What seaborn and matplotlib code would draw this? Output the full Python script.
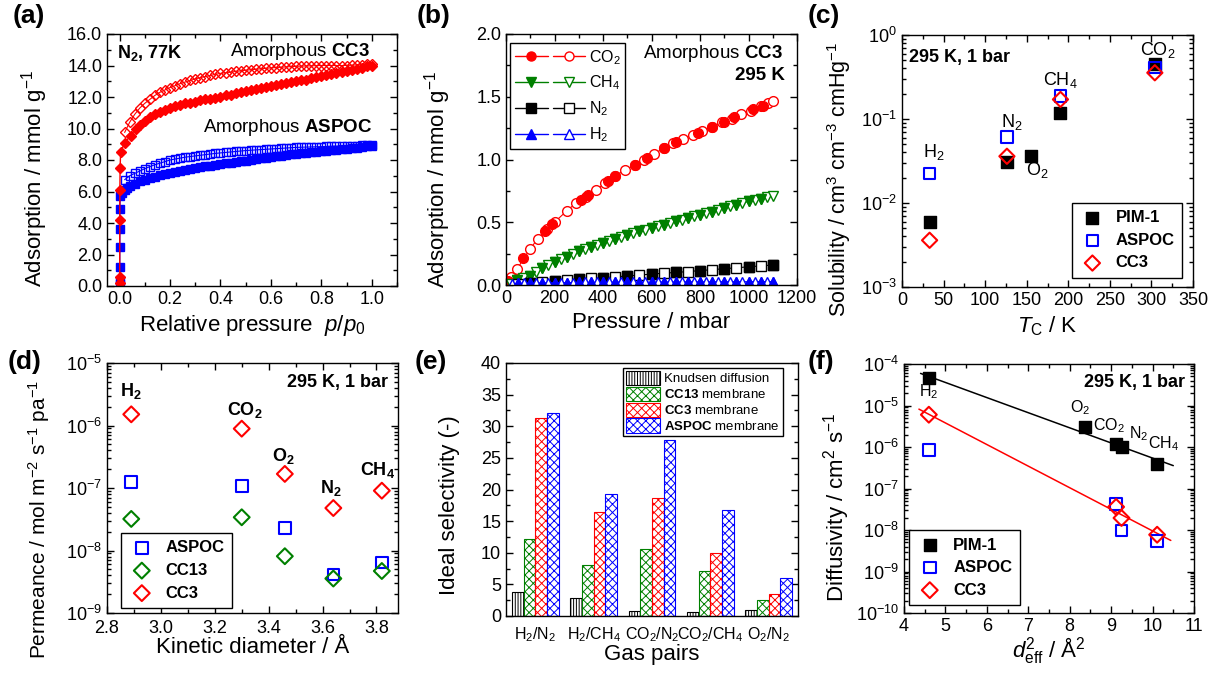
import numpy as np
import pandas as pd
import matplotlib
matplotlib.use("Agg")
import matplotlib.pyplot as plt
import seaborn as sns
from matplotlib.lines import Line2D
from matplotlib.patches import Patch
from matplotlib.legend_handler import HandlerTuple
from matplotlib.ticker import MultipleLocator, LogLocator, NullFormatter, FormatStrFormatter

# ---------------- (a) N2 isotherms at 77 K ----------------
grid_a = [0.02, 0.04, 0.06, 0.08, 0.10, 0.12, 0.14, 0.16, 0.18, 0.20,
          0.22, 0.24, 0.26, 0.28, 0.30, 0.32, 0.34, 0.36, 0.38, 0.40,
          0.42, 0.44, 0.46, 0.48, 0.50, 0.52, 0.54, 0.56, 0.58, 0.60,
          0.62, 0.64, 0.66, 0.68, 0.70, 0.72, 0.74, 0.76, 0.78, 0.80,
          0.82, 0.84, 0.86, 0.88, 0.90, 0.92, 0.94, 0.96, 0.98, 1.00]

cc3_ads_p = [0.0001, 0.0003, 0.0006, 0.001, 0.002, 0.004, 0.02, 0.044, 0.064,
             0.08, 0.10, 0.12, 0.14, 0.16, 0.18, 0.20, 0.22, 0.24, 0.26, 0.28,
             0.30, 0.32, 0.34, 0.36, 0.38, 0.40, 0.42, 0.44, 0.46, 0.48, 0.50,
             0.52, 0.54, 0.56, 0.58, 0.60, 0.62, 0.64, 0.66, 0.68, 0.70, 0.72,
             0.74, 0.76, 0.78, 0.80, 0.82, 0.84, 0.86, 0.88, 0.90, 0.92, 0.94,
             0.96, 0.98, 1.00]
cc3_ads_q = [0.2, 0.6, 4.2, 6.1, 7.5, 8.5, 9.1, 9.55, 10.0,
             10.25, 10.5, 10.7, 10.9, 11.05, 11.2, 11.3, 11.4, 11.5, 11.6, 11.65,
             11.7, 11.8, 11.85, 11.9, 11.95, 12.0, 12.1, 12.15, 12.25, 12.3, 12.4,
             12.45, 12.5, 12.55, 12.65, 12.7, 12.75, 12.8, 12.9, 12.95, 13.0, 13.05,
             13.1, 13.2, 13.25, 13.35, 13.4, 13.45, 13.5, 13.6, 13.65, 13.7, 13.8,
             13.85, 13.95, 14.0]
cc3_des_q = [9.75, 10.4, 10.9, 11.3, 11.6, 11.85, 12.1, 12.3, 12.45, 12.6,
             12.72, 12.85, 12.95, 13.05, 13.15, 13.23, 13.3, 13.37, 13.44, 13.5,
             13.54, 13.58, 13.62, 13.66, 13.7, 13.73, 13.76, 13.79, 13.82, 13.85,
             13.87, 13.89, 13.91, 13.93, 13.95, 13.96, 13.97, 13.98, 13.99, 14.0,
             14.0, 14.0, 14.0, 14.0, 14.0, 14.02, 14.04, 14.06, 14.08, 14.1]

aspoc_ads_p = [0.0001, 0.0002, 0.0004, 0.0006, 0.0008, 0.001, 0.002, 0.01,
               0.02, 0.03, 0.04, 0.06, 0.08, 0.10, 0.12, 0.14, 0.16, 0.18, 0.20,
               0.22, 0.24, 0.26, 0.28, 0.30, 0.32, 0.34, 0.36, 0.38, 0.40,
               0.42, 0.44, 0.46, 0.48, 0.50, 0.52, 0.54, 0.56, 0.58, 0.60,
               0.62, 0.64, 0.66, 0.68, 0.70, 0.72, 0.74, 0.76, 0.78, 0.80,
               0.82, 0.84, 0.86, 0.88, 0.90, 0.92, 0.94, 0.96, 0.98, 1.00]
aspoc_ads_q = [0.1, 0.4, 1.2, 2.5, 3.6, 4.9, 5.7, 5.9,
               6.1, 6.25, 6.35, 6.5, 6.65, 6.75, 6.85, 6.95, 7.02, 7.1, 7.15,
               7.22, 7.3, 7.37, 7.43, 7.5, 7.55, 7.6, 7.65, 7.7, 7.75,
               7.8, 7.83, 7.87, 7.91, 7.95, 8.0, 8.05, 8.1, 8.15, 8.2,
               8.24, 8.28, 8.32, 8.36, 8.4, 8.43, 8.46, 8.49, 8.52, 8.55,
               8.58, 8.61, 8.64, 8.67, 8.7, 8.74, 8.78, 8.82, 8.86, 8.9]
aspoc_des_q = [6.75, 7.0, 7.15, 7.3, 7.45, 7.58, 7.7, 7.8, 7.9, 8.0,
               8.06, 8.12, 8.18, 8.22, 8.26, 8.3, 8.34, 8.38, 8.42, 8.45,
               8.48, 8.51, 8.54, 8.57, 8.6, 8.62, 8.64, 8.66, 8.68, 8.7,
               8.72, 8.74, 8.76, 8.78, 8.8, 8.81, 8.82, 8.83, 8.84, 8.85,
               8.86, 8.87, 8.88, 8.89, 8.9, 8.91, 8.92, 8.93, 8.94, 8.95]

# ---------------- (b) CC3 gas isotherms at 295 K ----------------
co2_ads_p = [10, 70, 160, 190, 310, 340, 420, 450, 530, 580, 650, 700, 790, 850, 900, 940, 1020, 1060]
co2_ads_q = [0.03, 0.215, 0.43, 0.485, 0.675, 0.715, 0.83, 0.87, 0.955, 1.01, 1.09, 1.14, 1.215, 1.26, 1.30, 1.335, 1.40, 1.43]
co2_des_p = [20, 45, 100, 130, 170, 200, 250, 290, 330, 370, 410, 450, 490, 530, 570, 610, 650, 690, 730, 770, 810, 850, 890, 930, 970, 1010, 1050, 1080, 1100]
co2_des_q = [0.067, 0.125, 0.29, 0.365, 0.45, 0.50, 0.59, 0.655, 0.70, 0.755, 0.815, 0.87, 0.915, 0.955, 1.0, 1.045, 1.09, 1.13, 1.165, 1.195, 1.23, 1.26, 1.295, 1.325, 1.36, 1.39, 1.425, 1.45, 1.467]

ch4_ads_p = [45, 100, 150, 200, 250, 300, 350, 400, 450, 500, 550, 600, 650, 700, 750, 800, 850, 900, 950, 1000, 1050]
ch4_ads_q = [0.04, 0.072, 0.133, 0.187, 0.22, 0.267, 0.30, 0.333, 0.365, 0.40, 0.427, 0.453, 0.48, 0.507, 0.533, 0.56, 0.584, 0.613, 0.64, 0.667, 0.688]
ch4_des_p = [20, 45, 70, 100, 125, 150, 175, 200, 225, 250, 275, 300, 325, 350, 375, 400, 425, 450, 475, 500, 525, 550,
             575, 600, 625, 650, 675, 700, 725, 750, 775, 800, 825, 850, 875, 900, 925, 950, 975, 1000, 1025, 1050, 1075, 1100]
ch4_des_q = [0.01, 0.04, 0.055, 0.072, 0.10, 0.133, 0.16, 0.187, 0.205, 0.22, 0.245, 0.267, 0.285, 0.30, 0.318, 0.333, 0.35, 0.365, 0.382, 0.40, 0.413, 0.427,
             0.44, 0.453, 0.467, 0.48, 0.493, 0.507, 0.52, 0.533, 0.547, 0.56, 0.572, 0.584, 0.598, 0.613, 0.627, 0.64, 0.653, 0.667, 0.678, 0.688, 0.70, 0.712]

n2_p = [50, 100, 150, 200, 250, 300, 350, 400, 450, 500, 550, 600, 650, 700, 750, 800, 850, 900, 950, 1000, 1050, 1100]
n2_q = [0.008, 0.015, 0.022, 0.03, 0.037, 0.045, 0.052, 0.058, 0.065, 0.072, 0.079, 0.087, 0.094, 0.10, 0.107, 0.115, 0.122, 0.13, 0.137, 0.145, 0.152, 0.16]
h2_p = [25, 50, 75, 100, 125, 150, 175, 200, 225, 250, 275, 300, 325, 350, 375, 400, 425, 450, 475, 500, 525, 550,
        575, 600, 625, 650, 675, 700, 725, 750, 775, 800, 825, 850, 875, 900, 925, 950, 975, 1000, 1025, 1050, 1075, 1100]
h2_q = [0.01, 0.012, 0.014, 0.015, 0.016, 0.017, 0.017, 0.018, 0.018, 0.019, 0.019, 0.02, 0.02, 0.021, 0.021, 0.021, 0.021, 0.022, 0.022, 0.022,
        0.022, 0.023, 0.023, 0.023, 0.023, 0.024, 0.024, 0.024, 0.024, 0.025, 0.025, 0.025, 0.025, 0.025, 0.026, 0.026, 0.026, 0.026, 0.026,
        0.026, 0.027, 0.027, 0.027, 0.027]

# ---------------- (c) Solubility vs critical temperature ----------------
sol_gases = ["H2", "N2", "O2", "CH4", "CO2"]
sol_tc = [33.2, 126.2, 154.6, 190.6, 304.1]
sol_pim = [0.0059, 0.031, 0.036, 0.119, 0.45]
sol_aspoc_tc = [33.2, 126.2, 190.6, 304.1]
sol_aspoc = [0.0224, 0.0614, 0.187, 0.41]
sol_cc3_tc = [33.2, 126.2, 190.6, 304.1]
sol_cc3 = [0.0036, 0.036, 0.171, 0.355]

# ---------------- (d) Permeance vs kinetic diameter ----------------
kin_diam = [2.89, 3.30, 3.46, 3.64, 3.82]
perm_aspoc = [1.26e-7, 1.08e-7, 2.31e-8, 4.12e-9, 6.4e-9]
perm_cc13 = [3.2e-8, 3.4e-8, 8.1e-9, 3.56e-9, 4.7e-9]
perm_cc3 = [1.51e-6, 8.9e-7, 1.68e-7, 4.78e-8, 9.06e-8]
perm_labels = ["H$_\\mathbf{2}$", "CO$_\\mathbf{2}$", "O$_\\mathbf{2}$", "N$_\\mathbf{2}$", "CH$_\\mathbf{4}$"]

# ---------------- (e) Ideal selectivity ----------------
pairs = ["H$_2$/N$_2$", "H$_2$/CH$_4$", "CO$_2$/N$_2$", "CO$_2$/CH$_4$", "O$_2$/N$_2$"]
sel_knudsen = [3.74, 2.83, 0.80, 0.60, 0.94]
sel_cc13 = [12.2, 8.1, 10.65, 7.15, 2.5]
sel_cc3 = [31.25, 16.5, 18.7, 9.9, 3.55]
sel_aspoc = [32.05, 19.3, 27.8, 16.75, 6.0]
sel_names = ["Knudsen diffusion", "CC13 membrane", "CC3 membrane", "ASPOC membrane"]

# ---------------- (f) Diffusivity vs d_eff^2 ----------------
dif_pim_x = [4.6, 8.36, 9.12, 9.25, 10.11]
dif_pim = [4.5e-5, 3.0e-6, 1.18e-6, 9.8e-7, 3.9e-7]
dif_aspoc_x = [4.6, 9.12, 9.25, 10.11]
dif_aspoc = [8.6e-7, 4.2e-8, 9.8e-9, 5.5e-9]
dif_cc3_x = [4.6, 9.12, 9.25, 10.11]
dif_cc3 = [6.0e-6, 3.6e-8, 1.95e-8, 7.7e-9]

# ============================================================
sns.set_theme(style="ticks")
plt.rcParams.update({
    "font.family": ["Liberation Sans", "DejaVu Sans"],
    "mathtext.fontset": "custom",
    "mathtext.rm": "Liberation Sans",
    "mathtext.it": "Liberation Sans:italic",
    "mathtext.bf": "Liberation Sans:bold",
    "axes.linewidth": 1.0,
    "axes.edgecolor": "black",
    "axes.labelcolor": "black",
    "text.color": "black",
    "xtick.color": "black",
    "ytick.color": "black",
    "xtick.direction": "in",
    "ytick.direction": "in",
    "xtick.top": True,
    "ytick.right": True,
    "xtick.major.size": 5,
    "ytick.major.size": 5,
    "xtick.minor.size": 3,
    "ytick.minor.size": 3,
    "xtick.major.width": 1.0,
    "ytick.major.width": 1.0,
    "xtick.labelsize": 13,
    "ytick.labelsize": 13,
    "axes.labelsize": 16,
    "hatch.linewidth": 0.7,
})

fig = plt.figure(figsize=(12.18, 6.75), dpi=100)
W, H = 1218.0, 675.0


def axes_px(l, t, r, b):
    return fig.add_axes([l / W, 1 - b / H, (r - l) / W, (b - t) / H])


ax_a = axes_px(107, 34, 397, 286)
ax_b = axes_px(506, 34, 797, 285)
ax_c = axes_px(902, 35, 1193, 287)
ax_d = axes_px(107, 363, 398, 613)
ax_e = axes_px(506, 363, 798, 616)
ax_f = axes_px(904, 364, 1194, 613)

for ax in [ax_a, ax_b, ax_c, ax_d, ax_e, ax_f]:
    ax.tick_params(which="both", direction="in", top=True, right=True)


def style_legend(leg):
    fr = leg.get_frame()
    fr.set_edgecolor("black")
    fr.set_linewidth(1.0)
    fr.set_alpha(1)


# ---------- (a) ----------
RED, BLUE, GREEN, BLACK = "#ff0000", "#0000ff", "#008000", "#000000"
sns.lineplot(x=aspoc_ads_p, y=aspoc_ads_q, ax=ax_a, sort=False, estimator=None, color=BLUE,
             lw=1, marker="s", markersize=5.5, markerfacecolor=BLUE, markeredgecolor=BLUE, markeredgewidth=1)
sns.lineplot(x=grid_a, y=aspoc_des_q, ax=ax_a, sort=False, estimator=None, color=BLUE,
             lw=0.8, marker="s", markersize=5.5, markerfacecolor="none", markeredgecolor=BLUE, markeredgewidth=1)
sns.lineplot(x=cc3_ads_p, y=cc3_ads_q, ax=ax_a, sort=False, estimator=None, color=RED,
             lw=1, marker="D", markersize=5.5, markerfacecolor=RED, markeredgecolor=RED, markeredgewidth=1)
sns.lineplot(x=grid_a, y=cc3_des_q, ax=ax_a, sort=False, estimator=None, color=RED,
             lw=0.8, marker="D", markersize=5.5, markerfacecolor="none", markeredgecolor=RED, markeredgewidth=1)
ax_a.set_xlim(-0.05, 1.1)
ax_a.set_ylim(0, 16)
ax_a.xaxis.set_major_locator(MultipleLocator(0.2))
ax_a.xaxis.set_minor_locator(MultipleLocator(0.1))
ax_a.yaxis.set_major_locator(MultipleLocator(2))
ax_a.yaxis.set_minor_locator(MultipleLocator(1))
ax_a.xaxis.set_major_formatter(FormatStrFormatter("%.1f"))
ax_a.yaxis.set_major_formatter(FormatStrFormatter("%.1f"))
ax_a.set_xlabel("Relative pressure  $p$/$p_0$")
ax_a.set_ylabel("Adsorption / mmol g$^{-1}$")
ax_a.yaxis.set_label_coords(-0.197, 0.425)
ax_a.text(0.034, 0.925, "N$_\\mathbf{2}$, 77K", transform=ax_a.transAxes, fontsize=13,
          fontweight="bold", va="center", ha="left")
ax_a.text(0.907, 0.929, "Amorphous $\\mathbf{CC3}$", transform=ax_a.transAxes, fontsize=13.5,
          va="center", ha="right")
ax_a.text(0.914, 0.627, "Amorphous $\\mathbf{ASPOC}$", transform=ax_a.transAxes, fontsize=13.5,
          va="center", ha="right")

# ---------- (b) ----------
series_b = [
    ("CO$_2$", RED, "o", co2_ads_p, co2_ads_q, co2_des_p, co2_des_q),
    ("CH$_4$", GREEN, "v", ch4_ads_p, ch4_ads_q, ch4_des_p, ch4_des_q),
    ("N$_2$", BLACK, "s", n2_p[1::2], n2_q[1::2], n2_p, n2_q),
    ("H$_2$", BLUE, "^", h2_p[1::2], h2_q[1::2], h2_p, h2_q),
]
handles_b, labels_b = [], []
for name, c, m, xa, ya, xd, yd in series_b:
    sns.lineplot(x=xd, y=yd, ax=ax_b, sort=False, estimator=None, color=c, lw=0.8,
                 marker=m, markersize=7, markerfacecolor="white", markeredgecolor=c, markeredgewidth=1)
    sns.lineplot(x=xa, y=ya, ax=ax_b, sort=False, estimator=None, color=c, lw=0,
                 marker=m, markersize=7, markerfacecolor=c, markeredgecolor=c, markeredgewidth=1)
    h1 = Line2D([], [], color=c, lw=1, marker=m, markersize=6.5, markerfacecolor=c, markeredgecolor=c)
    h2 = Line2D([], [], color=c, lw=1, marker=m, markersize=6.5, markerfacecolor="white", markeredgecolor=c)
    handles_b.append((h1, h2))
    labels_b.append(name)
ax_b.set_xlim(0, 1200)
ax_b.set_ylim(0, 2.0)
ax_b.xaxis.set_major_locator(MultipleLocator(200))
ax_b.xaxis.set_minor_locator(MultipleLocator(100))
ax_b.yaxis.set_major_locator(MultipleLocator(0.5))
ax_b.yaxis.set_minor_locator(MultipleLocator(0.25))
ax_b.yaxis.set_major_formatter(FormatStrFormatter("%.1f"))
ax_b.set_xlabel("Pressure / mbar")
ax_b.set_ylabel("Adsorption / mmol g$^{-1}$")
ax_b.yaxis.set_label_coords(-0.182, 0.42)
leg_b = ax_b.legend(handles_b, labels_b, handler_map={tuple: HandlerTuple(ndivide=None, pad=0.35)},
                    loc="upper left", bbox_to_anchor=(0.015, 0.964), fontsize=11.5, handlelength=4.4,
                    fancybox=False, borderaxespad=0, labelspacing=0.45, handletextpad=0.2,
                    borderpad=0.3, framealpha=1)
style_legend(leg_b)
ax_b.text(0.953, 0.924, "Amorphous $\\mathbf{CC3}$", transform=ax_b.transAxes, fontsize=13.5,
          va="center", ha="right")
ax_b.text(0.96, 0.833, "295 K", transform=ax_b.transAxes, fontsize=13.5, fontweight="bold",
          va="center", ha="right")

# ---------- (c) ----------
sns.scatterplot(x=sol_tc, y=sol_pim, ax=ax_c, marker="s", s=70, color=BLACK, edgecolor=BLACK,
                linewidth=1, label="PIM-1", zorder=3)
sns.scatterplot(x=sol_aspoc_tc, y=sol_aspoc, ax=ax_c, marker="s", s=70, color=BLUE, facecolor="none",
                edgecolor=BLUE, linewidth=1.5, label="ASPOC", zorder=4)
sns.scatterplot(x=sol_cc3_tc, y=sol_cc3, ax=ax_c, marker="D", s=60, color=RED, facecolor="none",
                edgecolor=RED, linewidth=1.5, label="CC3", zorder=5)
ax_c.set_yscale("log")
ax_c.set_xlim(0, 350)
ax_c.set_ylim(1e-3, 1)
ax_c.xaxis.set_major_locator(MultipleLocator(50))
ax_c.xaxis.set_minor_locator(MultipleLocator(25))
ax_c.yaxis.set_major_locator(LogLocator(base=10, numticks=20))
ax_c.yaxis.set_minor_locator(LogLocator(base=10, subs=np.arange(2, 10), numticks=100))
ax_c.yaxis.set_minor_formatter(NullFormatter())
ax_c.set_xlabel("$T_\\mathrm{C}$ / K")
ax_c.set_ylabel("Solubility / cm$^3$ cm$^{-3}$ cmHg$^{-1}$", fontsize=15.5)
ax_c.yaxis.set_label_coords(-0.168, 0.425)
for lab, xx, yy in [("H$_2$", 38, 0.04), ("N$_2$", 132, 0.093), ("O$_2$", 163, 0.0246),
                    ("CH$_4$", 191, 0.29), ("CO$_2$", 308, 0.66)]:
    ax_c.text(xx, yy, lab, fontsize=13, ha="center", va="center")
ax_c.text(0.025, 0.909, "295 K, 1 bar", transform=ax_c.transAxes, fontsize=13,
          fontweight="bold", va="center", ha="left")
leg_c = ax_c.legend(loc="lower right", bbox_to_anchor=(0.963, 0.036), prop={"weight": "bold", "size": 12},
                    fancybox=False, borderaxespad=0, handletextpad=0.6, borderpad=0.45,
                    labelspacing=0.45, framealpha=1, handlelength=1.6)
style_legend(leg_c)

# ---------- (d) ----------
sns.scatterplot(x=kin_diam, y=perm_aspoc, ax=ax_d, marker="s", s=70, color=BLUE, facecolor="none",
                edgecolor=BLUE, linewidth=1.5, label="ASPOC", zorder=3)
sns.scatterplot(x=kin_diam, y=perm_cc13, ax=ax_d, marker="D", s=65, color=GREEN, facecolor="none",
                edgecolor=GREEN, linewidth=1.5, label="CC13", zorder=4)
sns.scatterplot(x=kin_diam, y=perm_cc3, ax=ax_d, marker="D", s=65, color=RED, facecolor="none",
                edgecolor=RED, linewidth=1.5, label="CC3", zorder=5)
ax_d.set_yscale("log")
ax_d.set_xlim(2.8, 3.88)
ax_d.set_ylim(1e-9, 1e-5)
ax_d.xaxis.set_major_locator(MultipleLocator(0.2))
ax_d.xaxis.set_minor_locator(MultipleLocator(0.1))
ax_d.xaxis.set_major_formatter(FormatStrFormatter("%.1f"))
ax_d.yaxis.set_major_locator(LogLocator(base=10, numticks=20))
ax_d.yaxis.set_minor_locator(LogLocator(base=10, subs=np.arange(2, 10), numticks=100))
ax_d.yaxis.set_minor_formatter(NullFormatter())
ax_d.tick_params(axis="x", which="major", pad=5)
ax_d.set_xlabel("Kinetic diameter / Å", labelpad=0)
ax_d.set_ylabel("Permeance / mol m$^{-2}$ s$^{-1}$ pa$^{-1}$", fontsize=15)
ax_d.yaxis.set_label_coords(-0.19, 0.375)
for lab, xx, yy in zip(perm_labels, [2.89, 3.31, 3.453, 3.63, 3.806], [3.5e-6, 1.78e-6, 3.2e-7, 9.9e-8, 1.94e-7]):
    ax_d.text(xx, yy, lab, fontsize=13, fontweight="bold", ha="center", va="center")
ax_d.text(0.966, 0.92, "295 K, 1 bar", transform=ax_d.transAxes, fontsize=13,
          fontweight="bold", va="center", ha="right")
leg_d = ax_d.legend(loc="lower left", bbox_to_anchor=(0.048, 0.02), prop={"weight": "bold", "size": 12},
                    fancybox=False, borderaxespad=0, handletextpad=0.6, borderpad=0.45,
                    labelspacing=0.45, framealpha=1, handlelength=1.6)
style_legend(leg_d)

# ---------- (e) ----------
sel_df = pd.DataFrame({
    "pair": pairs * 4,
    "sel": sel_knudsen + sel_cc13 + sel_cc3 + sel_aspoc,
    "kind": [sel_names[0]] * 5 + [sel_names[1]] * 5 + [sel_names[2]] * 5 + [sel_names[3]] * 5,
})
bar_colors = [BLACK, GREEN, RED, BLUE]
bar_hatches = ["||||||", "xxxx", "xxxx", "xxxx"]
sns.barplot(data=sel_df, x="pair", y="sel", hue="kind", hue_order=sel_names, order=pairs,
            palette=bar_colors, ax=ax_e, width=0.8, saturation=1, legend=False, errorbar=None)
for cont, c, h in zip(ax_e.containers, bar_colors, bar_hatches):
    for p in cont:
        p.set_facecolor("white")
        p.set_edgecolor(c)
        p.set_hatch(h)
        p.set_linewidth(0.8)
ax_e.set_xlim(-0.5, 4.5)
ax_e.set_ylim(0, 40)
ax_e.yaxis.set_major_locator(MultipleLocator(5))
ax_e.yaxis.set_minor_locator(MultipleLocator(2.5))
ax_e.tick_params(axis="x", which="both", length=0, pad=7, labelsize=11.5)
ax_e.set_xlabel("Gas pairs", labelpad=0)
ax_e.set_ylabel("Ideal selectivity (-)")
ax_e.yaxis.set_label_coords(-0.158, 0.44)
leg_labels_e = ["Knudsen diffusion", "$\\mathbf{CC13}$ membrane", "$\\mathbf{CC3}$ membrane",
                "$\\mathbf{ASPOC}$ membrane"]
handles_e = [Patch(facecolor="white", edgecolor=c, hatch=h, linewidth=0.8) for c, h in zip(bar_colors, bar_hatches)]
leg_e = ax_e.legend(handles_e, leg_labels_e, loc="upper right", bbox_to_anchor=(0.947, 0.98), fontsize=9.5,
                    fancybox=False, borderaxespad=0, handlelength=2.6, handleheight=1.3,
                    handletextpad=0.3, borderpad=0.2, labelspacing=0.1, framealpha=1)
style_legend(leg_e)

# ---------- (f) ----------
fit_x = np.array([4.4, 10.5])
fit_x_red = np.array([4.36, 10.44])
coef_pim = np.polyfit(dif_pim_x, np.log10(dif_pim), 1)
coef_cc3 = np.polyfit(dif_cc3_x, np.log10(dif_cc3), 1)
sns.lineplot(x=fit_x, y=10 ** np.polyval(coef_pim, fit_x), ax=ax_f, color=BLACK, lw=1.1, zorder=2)
sns.lineplot(x=fit_x_red, y=10 ** np.polyval(coef_cc3, fit_x_red), ax=ax_f, color=RED, lw=1.1, zorder=2)
sns.scatterplot(x=dif_pim_x, y=dif_pim, ax=ax_f, marker="s", s=85, color=BLACK, edgecolor=BLACK,
                linewidth=1, label="PIM-1", zorder=3)
sns.scatterplot(x=dif_aspoc_x, y=dif_aspoc, ax=ax_f, marker="s", s=70, color=BLUE, facecolor="none",
                edgecolor=BLUE, linewidth=1.5, label="ASPOC", zorder=4)
sns.scatterplot(x=dif_cc3_x, y=dif_cc3, ax=ax_f, marker="D", s=65, color=RED, facecolor="none",
                edgecolor=RED, linewidth=1.5, label="CC3", zorder=5)
ax_f.set_yscale("log")
ax_f.set_xlim(4, 11)
ax_f.set_ylim(1e-10, 1e-4)
ax_f.xaxis.set_major_locator(MultipleLocator(1))
ax_f.xaxis.set_minor_locator(MultipleLocator(0.5))
ax_f.yaxis.set_major_locator(LogLocator(base=10, numticks=20))
ax_f.yaxis.set_minor_locator(LogLocator(base=10, subs=np.arange(2, 10), numticks=100))
ax_f.yaxis.set_minor_formatter(NullFormatter())
ax_f.set_xlabel("$d^{2}_{\\mathrm{eff}}$ / Å$^2$", labelpad=0)
ax_f.set_ylabel("Diffusivity / cm$^2$ s$^{-1}$")
ax_f.yaxis.set_label_coords(-0.179, 0.425)
for lab, xx, yy in [("H$_2$", 4.6, 2.1e-5), ("O$_2$", 8.25, 9.1e-6), ("CO$_2$", 8.95, 3.2e-6),
                    ("N$_2$", 9.66, 2.1e-6), ("CH$_4$", 10.27, 1.2e-6)]:
    ax_f.text(xx, yy, lab, fontsize=11.5, ha="center", va="center")
ax_f.text(0.969, 0.924, "295 K, 1 bar", transform=ax_f.transAxes, fontsize=13,
          fontweight="bold", va="center", ha="right")
leg_f = ax_f.legend(loc="lower left", bbox_to_anchor=(0.017, 0.032), prop={"weight": "bold", "size": 12},
                    fancybox=False, borderaxespad=0, handletextpad=0.6, borderpad=0.45,
                    labelspacing=0.45, framealpha=1, handlelength=1.6)
style_legend(leg_f)

# ---------- panel letters ----------
for lab, xp, yp in [("(a)", 13, 4), ("(b)", 417, 4), ("(c)", 808, 4),
                    ("(d)", 8, 350), ("(e)", 415, 350), ("(f)", 808, 350)]:
    fig.text(xp / W, 1 - yp / H, lab, fontsize=19, fontweight="bold", ha="left", va="top")

fig.savefig("out.png", dpi=100)
